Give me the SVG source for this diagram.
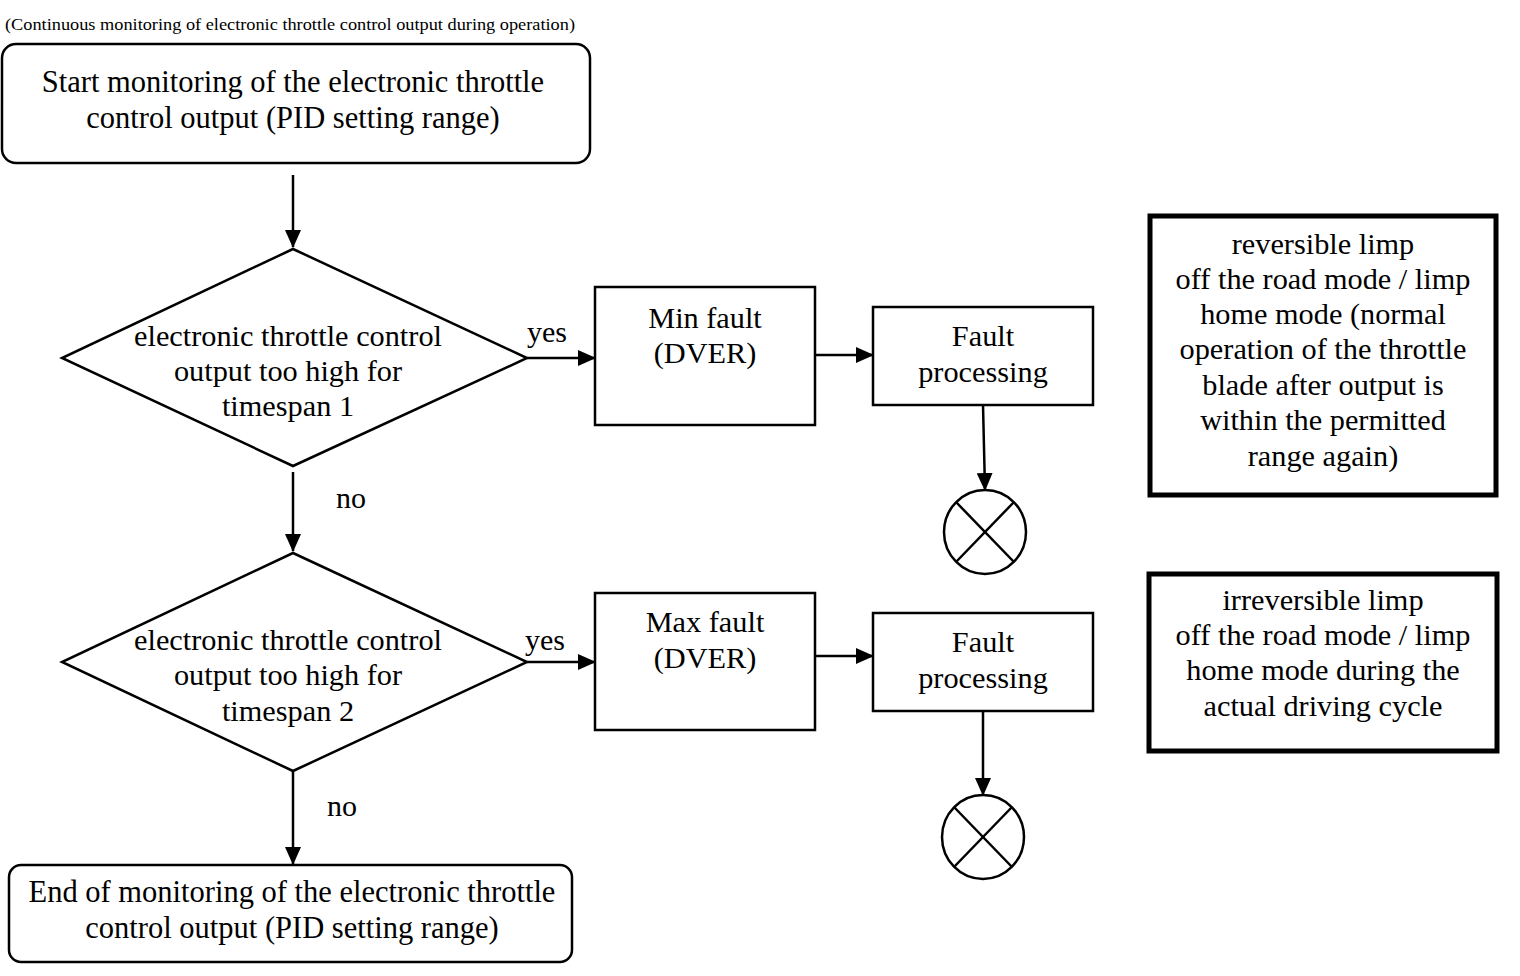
<svg xmlns="http://www.w3.org/2000/svg" width="1520" height="976" viewBox="0 0 1520 976">
<style>
text{font-family:"Liberation Serif","Times New Roman",serif;fill:#000;text-anchor:middle}
.t{font-size:30.5px}
.s{font-size:30.3px}
.l{font-size:30.3px}
.box{fill:#fff;stroke:#000;stroke-width:2.5}
.thick{fill:#fff;stroke:#000;stroke-width:5}
.c{fill:none;stroke:#000;stroke-width:2.5}
.con{fill:none;stroke:#000;stroke-width:2.5;marker-end:url(#ah)}
</style>
<defs>
<marker id="ah" markerWidth="18" markerHeight="16" refX="17" refY="8" orient="auto" markerUnits="userSpaceOnUse">
<path d="M0,0 L18,8 L0,16 Z" fill="#000"/>
</marker>
</defs>
<rect width="1520" height="976" fill="#fff"/>
<text x="5" y="30" style="font-size:16px;text-anchor:start" textLength="570" lengthAdjust="spacingAndGlyphs">(Continuous monitoring of electronic throttle control output during operation)</text>

<g id="start">
<rect class="box" x="2" y="44" width="588" height="119" rx="14"/>
<text class="t" x="293" y="92">Start monitoring of the electronic throttle</text>
<text class="t" x="293" y="128">control output (PID setting range)</text>
</g>

<g id="dec1">
<polygon class="box" points="293,249 527,358 293,466 62,358"/>
<text class="s" x="288" y="346">electronic throttle control</text>
<text class="s" x="288" y="381">output too high for</text>
<text class="s" x="288" y="416">timespan 1</text>
</g>

<g id="minfault">
<rect class="box" x="595" y="287" width="220" height="138"/>
<text class="s" x="705" y="328">Min fault</text>
<text class="s" x="705" y="363">(DVER)</text>
</g>

<g id="fp1">
<rect class="box" x="873" y="307" width="220" height="98"/>
<text class="s" x="983" y="346">Fault</text>
<text class="s" x="983" y="382">processing</text>
</g>

<g id="stop1">
<ellipse class="c" cx="985" cy="532" rx="41" ry="42"/>
<line class="c" x1="956" y1="502" x2="1014" y2="562"/>
<line class="c" x1="1014" y1="502" x2="956" y2="562"/>
</g>

<g id="dec2">
<polygon class="box" points="293,553 527,662 293,771 62,662"/>
<text class="s" x="288" y="650">electronic throttle control</text>
<text class="s" x="288" y="685">output too high for</text>
<text class="s" x="288" y="721">timespan 2</text>
</g>

<g id="maxfault">
<rect class="box" x="595" y="593" width="220" height="137"/>
<text class="s" x="705" y="632">Max fault</text>
<text class="s" x="705" y="668">(DVER)</text>
</g>

<g id="fp2">
<rect class="box" x="873" y="613" width="220" height="98"/>
<text class="s" x="983" y="652">Fault</text>
<text class="s" x="983" y="688">processing</text>
</g>

<g id="stop2">
<ellipse class="c" cx="983" cy="837" rx="41" ry="42"/>
<line class="c" x1="954" y1="807" x2="1012" y2="867"/>
<line class="c" x1="1012" y1="807" x2="954" y2="867"/>
</g>

<g id="end">
<rect class="box" x="9" y="865" width="563" height="97" rx="12"/>
<text class="t" x="292" y="902">End of monitoring of the electronic throttle</text>
<text class="t" x="292" y="938">control output (PID setting range)</text>
</g>

<g id="note1">
<rect class="thick" x="1150" y="216" width="346" height="279"/>
<text class="l" x="1323" y="254">reversible limp</text>
<text class="l" x="1323" y="289">off the road mode / limp</text>
<text class="l" x="1323" y="324">home mode (normal</text>
<text class="l" x="1323" y="359">operation of the throttle</text>
<text class="l" x="1323" y="395">blade after output is</text>
<text class="l" x="1323" y="430">within the permitted</text>
<text class="l" x="1323" y="466">range again)</text>
</g>

<g id="note2">
<rect class="thick" x="1149" y="574" width="348" height="177"/>
<text class="l" x="1323" y="610">irreversible limp</text>
<text class="l" x="1323" y="645">off the road mode / limp</text>
<text class="l" x="1323" y="680">home mode during the</text>
<text class="l" x="1323" y="716">actual driving cycle</text>
</g>

<g id="connectors">
<line class="con" x1="293" y1="175" x2="293" y2="247"/>
<line class="con" x1="527" y1="358" x2="595" y2="358"/>
<line class="con" x1="815" y1="355" x2="873" y2="355"/>
<line class="con" x1="983" y1="405" x2="985" y2="490"/>
<line class="con" x1="293" y1="472" x2="293" y2="551"/>
<line class="con" x1="527" y1="662" x2="595" y2="662"/>
<line class="con" x1="815" y1="656" x2="873" y2="656"/>
<line class="con" x1="983" y1="711" x2="983" y2="795"/>
<line class="con" x1="293" y1="771" x2="293" y2="864"/>
<text x="547" y="342" style="font-size:30px">yes</text>
<text x="545" y="650" style="font-size:30px">yes</text>
<text x="351" y="508" style="font-size:30px">no</text>
<text x="342" y="816" style="font-size:30px">no</text>
</g>
</svg>
